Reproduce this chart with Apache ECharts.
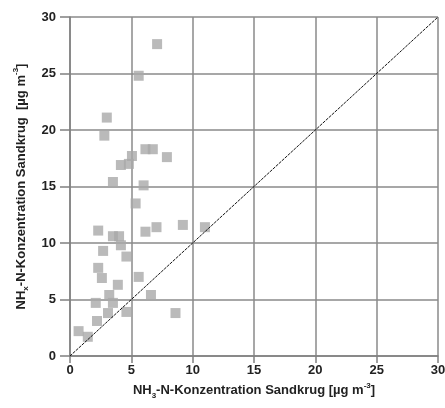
<!DOCTYPE html>
<html><head><meta charset="utf-8">
<script src="https://cdn.jsdelivr.net/npm/echarts@6/dist/echarts.min.js"></script>
<style>html,body{margin:0;padding:0;background:#fff}#c{width:445px;height:408px}</style>
</head><body><div id="c"></div>
<script>
// NH3-N (x) vs NHx-N (y), µg m-3
const nh3 = [7.1,5.6,3.0,2.8,6.15,6.75,7.9,5.05,4.15,4.8,3.5,6.0,5.35,2.3,3.5,4.0,4.15,2.7,4.6,6.15,7.05,9.2,11.0,2.3,2.6,5.6,3.9,3.2,2.1,3.5,6.6,3.1,4.6,8.6,2.2,0.7,1.45];
const nhx = [27.6,24.8,21.1,19.5,18.3,18.3,17.6,17.7,16.9,17.0,15.4,15.1,13.5,11.1,10.6,10.6,9.8,9.3,8.8,11.0,11.4,11.6,11.4,7.8,6.9,7.0,6.3,5.4,4.7,4.7,5.4,3.8,3.9,3.8,3.1,2.2,1.7];
const oneToOne = [[0,0],[30,30]];
const axisTicks = [0,5,10,15,20,25,30];

const points = nh3.map((x,i)=>[x,nhx[i]]);
const font = 'Liberation Sans, Arial, sans-serif';
const rich = {
  n:{fontFamily:font,fontWeight:'bold',fontSize:13,color:'#222',lineHeight:18,verticalAlign:'middle'},
  sub:{fontFamily:font,fontWeight:'bold',fontSize:8,color:'#222',lineHeight:8,verticalAlign:'bottom'},
  sup:{fontFamily:font,fontWeight:'bold',fontSize:8,color:'#222',lineHeight:8,verticalAlign:'top'}
};
const axisCommon = {
  type:'value', min:axisTicks[0], max:axisTicks[axisTicks.length-1], interval:5,
  axisLine:{show:true,lineStyle:{color:'#808080',width:1.5}},
  axisTick:{show:true,length:7,lineStyle:{color:'#808080',width:1.5}},
  splitLine:{show:true,lineStyle:{color:'#8a8a8a',width:1.5}},
  axisLabel:{fontFamily:font,fontWeight:'bold',fontSize:13,color:'#222'},
  nameLocation:'middle',
  nameTextStyle:{rich:rich}
};
const chart = echarts.init(document.getElementById('c'),null,{renderer:'canvas'});
chart.setOption({
  animation:false,
  backgroundColor:'#fff',
  grid:{left:70,right:7,top:17,bottom:52,outerBoundsMode:'none',containLabel:false},
  xAxis:Object.assign({},axisCommon,{
    name:'{n|NH}{sub|3}{n|-N-Konzentration Sandkrug [µg m}{sup|-3}{n|]}',
    nameGap:24,
    axisLabel:Object.assign({},axisCommon.axisLabel,{margin:8})
  }),
  yAxis:Object.assign({},axisCommon,{
    name:'{n|NH}{sub|x}{n|-N-Konzentration Sandkrug  [µg m}{sup|-3}{n|]}',
    nameGap:40,
    axisTick:{show:true,length:10,lineStyle:{color:'#808080',width:1.5}},
    axisLabel:Object.assign({},axisCommon.axisLabel,{margin:14})
  }),
  series:[
    {type:'line',data:oneToOne,symbol:'none',z:3,
     lineStyle:{color:'#111',width:1,type:[3,1]}},
    {type:'scatter',data:points,symbol:'rect',symbolSize:10,z:2,
     itemStyle:{color:'#a9a9a9'}}
  ]
});
</script></body></html>
